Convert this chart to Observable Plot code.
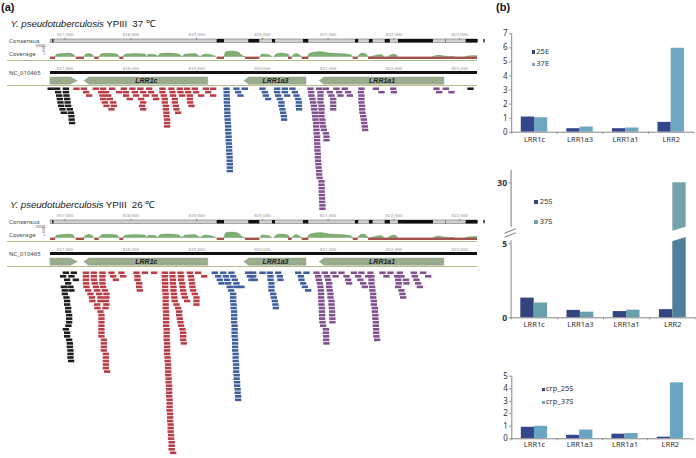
<!DOCTYPE html>
<html>
<head>
<meta charset="utf-8">
<script src="https://cdn.jsdelivr.net/npm/d3@7"></script>
<script src="https://cdn.jsdelivr.net/npm/@observablehq/plot@0.6"></script>
<style>
html,body{margin:0;padding:0;background:#fff}
#wrap{position:relative;width:696px;height:458px;overflow:hidden;background:#fff;font-family:"Liberation Sans",sans-serif}
.t{position:absolute;white-space:pre;line-height:1}
.sw{position:absolute}
</style>
</head>
<body>
<div id="wrap"></div>
<script>
// ---------- genome data (bp relative to 817,000) ----------
const genomeOrigin = 817000;
const genomeTicks = [817000,818000,819000,820000,821000,822000,823000];
const genes = [
  {name:"",       start:-220, end:195,  strand:1},
  {name:"LRR1c",  start:296,  end:2177, strand:-1},
  {name:"LRR1a3", start:2728, end:3671, strand:-1},
  {name:"LRR1a1", start:3873, end:5768, strand:-1}
];
const consensusGaps = [[-190,-170],[2313,2424],[2794,2961],[3154,3200],[3625,3706],[4416,4466],[4629,4685],[4868,4948],[5070,5602],[5794,5800],[6100,6282],[6370,6390]];
const coverageLow = [[-220,-144],[170,296],[453,520],[833,894],[2313,2424],[2744,2961],[3397,3453],[3605,3706],[4381,4457],[4613,5070],[5070,6270]];
const coverageRuns = [
  [[-144,0],[-114,2.5],[-38,3],[53,3.5],[114,3],[160,0]],
  [[296,0],[327,2.5],[388,3],[449,0]],
  [[524,0],[570,3],[692,3.3],[798,2.5],[833,0]],
  [[889,0],[935,2.5],[1072,3],[1224,2.5],[1250,0.4],[1276,2.4],[1376,2],[1421,0.4],[1452,3.2],[1604,3.5],[1725,2.8],[1790,0.4],[1832,2.5],[1984,3],[2060,0.4],[2136,2.5],[2212,2],[2303,0]],
  [[2424,0],[2455,5],[2546,5.5],[2638,4.5],[2714,0.5],[2744,0]],
  [[2972,0],[3000,2.7],[3093,2.2],[3154,0]],
  [[3184,0],[3230,3],[3291,3.5],[3397,2.5],[3420,0]],
  [[3453,0],[3519,3],[3605,0]],
  [[3691,0],[3732,3.5],[3884,5],[4036,3.5],[4188,3],[4340,2],[4381,0]],
  [[4457,0],[4522,3.5],[4570,3],[4618,0]],
  [[4650,0],[4720,1],[4811,2],[4857,0]],
  [[4917,0],[5008,2.5],[5070,0]],
  [[5602,0],[5678,1.5],[5769,0.6],[5930,0]],
  [[6100,0],[6200,1],[6270,0.8]]
];

// Read stacks: [first row, start position at each following row]
const black37 = [[0,-258],[0,-160,-144,-129,-119,-109,-99,-79,-58],[0,-27,-27,-18,-8,0,8,33,49,58,61,68],[0,6123]];
const red37 = [
 [0,134],[0,246,281,327],[0,429,509,529,540,565,590,666],[0,540,585,616,641,692,702],[0,676],[0,854,783],[0,985,885,889,945],
 [0,1107,1021,1041,1117,1148,1132,1148],[0,1239,1148,1189,1345],[1,1269,1325],[0,1441,1441,1462,1477,1477,1492,1492,1502,1502,1512,1512,1512],
 [0,1578,1593,1604,1629,1629,1645,1654,1680],[0,1705,1715,1740],[0,1816,1832,1857,1857,1862,1882],[0,1933,1953,2029],[0,2101,2136,2212],[0,2212]
];
const blue37 = [
 [0,2414,2417,2417,2420,2420,2424,2424,2428,2428,2432,2436,2440,2440,2444,2447,2447,2451,2455,2455,2458,2462,2462,2465,2465,2465],
 [0,2566,2592,2627],[0,2693],[0,2961,2997,3013,3048],[0,3184,3184,3200,3225,3250,3250,3265,3276,3286,3291],[0,3301,3301,3336],[0,3417,3453,3478,3504,3514,3514,3519]
];
const purple37 = [
 [0,3691,3701,3706,3721,3732,3742,3747,3757,3762,3767,3777,3777,3782,3785,3792,3792,3792,3797,3797,3803,3803,3808,3812,3815,3823,3823,3830,3858,3858,3861,3861,3864,3868,3868,3873,3873],
 [0,3823,3843,3843,3843,3843,3858,3858,3858,3858,3873,3873,3884,3894,3925,3934,3934],
 [0,3925,3985,4010,4036,4036,4036,4036],[0,4086,4127,4147],[0,4213,4264,4289],
 [0,4466,4457,4466,4466,4466,4476,4476,4481,4492,4502,4507,4517,4522],
 [0,4685,4770],[0,4948,4958],[0,5606,5647],[0,5749,5834]
];
const black26 = [
 [0,-27,-68,-8,8,-58,-43,-43,-18,-8,-8,8,8,23,23,23,12,-27,-8,-8,23,33,33,43,43,43,53],
 [0,94,58,125],[4,43,58]
];
const red26 = [
 [0,277,277,277,280,286,312,347,368,377],
 [0,398,398,398,413,429,448,479,499,499,448,453,499,514,514,514,514,514,514,514,550,550,550,550,581,581,581,581,581,600],
 [0,529,529,529,529,540,565,590,590,581,590,575],
 [0,666,692,733],[0,818,844],[0,1046,1061,1061,1087,1087,1097],[0,1173],[0,1315],
 [0,1477,1477,1477,1482,1482,1482,1490,1490,1490,1490,1490,1497,1497,1497,1497,1497,1505,1505,1505,1505,1512,1512,1512,1512,1520,1520,1528,1528,1528,1528,1535,1535,1543,1543,1543,1543,1550,1550,1550,1550,1558,1558,1558,1566,1566,1566,1573,1573,1581,1581,1581,1604],
 [0,1593,1593,1600,1600,1608,1608,1615,1622,1629,1654,1680,1695,1695,1705,1715,1725,1745,1756,1756,1756,1766],
 [0,1715,1725,1725,1740,1745,1756,1766,1781,1816],
 [0,1857,1873,1882,1892,1897,1908,1933,1958,1958,1958],[0,1984],[1,2075]
];
const blue26 = [
 [0,2364,2405,2424,2440,2465,2485,2516,2516,2516,2523,2523,2531,2531,2531,2531,2538,2538,2538,2538,2546,2546,2546,2546,2554,2554,2554,2561,2561,2561,2569,2569,2576,2576,2584,2584,2592,2592],
 [0,2237,2288,2313,2338],[0,2490,2516,2541,2566,2566],[4,2642],[0,2744,2769,2794],[0,2820,2820,2845],[0,2961],
 [0,3073,3083,3083,3098,3098,3098,3124,3134,3149,3159,3165],[0,3200,3225,3235],[0,3504,3545,3554,3580,3605,3656],[0,3630]
];
const purple26 = [
 [0,3782,3808,3818,3833,3843,3849,3853,3853,3858,3858,3864,3864,3868,3868,3873,3884,3925,3925,3930,3930,3934],
 [0,3909,3944,3960,3975,3975,3985,3995,3995,4010,4010,4016,4020,4020,4025,4025],
 [0,4603,4618,4618,4618,4628,4633,4644,4644,4654,4654,4669,4669,4678,4678,4685,4685,4689,4689,4694,4704],
 [0,4040,4074],[0,4162,4238,4264,4279],[0,4350,4416,4450,4492,4517],[0,4466,4568],[0,4785,4846],
 [0,4907,5008,5024,5034,5024,5074,5089,5100],[0,5049,5074,5141,5150],[0,5262,5277,5302,5328,5353],[0,5404,5480]
];

// ---------- bar chart data ----------
const barCategories = ["LRR1c","LRR1a3","LRR1a1","LRR2"];
const e25 = [1.08,0.25,0.25,0.7];
const e37 = [1.03,0.37,0.3,5.97];
const s25 = [1.33,0.5,0.42,0.55];
const s37 = [1.0,0.38,0.52,30];
const crp25 = [0.92,0.28,0.37,0.13];
const crp37 = [1.0,0.7,0.42,4.47];

// ---------- layout & style ----------
const wrap = document.getElementById("wrap");
const COL = {black:"#1d1d1d",red:"#bb3c46",blue:"#3f5e9f",purple:"#80508f",gene:"#9bab8e",brown:"#a2524a",green:"#7fae72",olive:"#b9bb8b"};
const READ_LEN = 96, HEAD = 70, COV_BASE = 2.4;
const xOpts = {domain:[genomeOrigin-220,genomeOrigin+6270],range:[50,477],axis:null};
const base = {width:490,marginLeft:0,marginRight:0,marginTop:0,marginBottom:0};

function put(plot,left,top){
  plot.style.position="absolute";plot.style.left=left+"px";plot.style.top=top+"px";
  plot.style.background="transparent";plot.style.overflow="visible";plot.style.maxWidth="none";
  wrap.appendChild(plot);
}
function label(text,left,top,size,opts={}){
  const d=document.createElement("div");d.className="t";
  d.style.left=left+"px";d.style.top=top+"px";d.style.fontSize=size+"px";
  d.style.color=opts.color||"#333";
  if(opts.bold)d.style.fontWeight="bold";
  if(opts.font)d.style.fontFamily=opts.font;
  if(opts.spacing)d.style.letterSpacing=opts.spacing;
  if(opts.html)d.innerHTML=text;else d.textContent=text;
  wrap.appendChild(d);return d;
}
function swatch(left,top,size,color){
  const d=document.createElement("div");d.className="sw";
  Object.assign(d.style,{left:left+"px",top:top+"px",width:size+"px",height:size+"px",background:color});
  wrap.appendChild(d);
}
const at = p => genomeOrigin + p;
const rulerAxis = (tickSize)=>Plot.axisX({anchor:"top",ticks:genomeTicks,tickFormat:d3.format(","),tickSize,tickPadding:1,label:null,
  fontFamily:"Liberation Serif",fontSize:5,fill:"#888",stroke:"#888"});
const readsOf = (stacks,color)=>stacks.flatMap(([r,...ps])=>ps.map((p,i)=>({p,row:r+i,color})));

function genomePanel(off,readGroups,readTop,pitch,rows){
  // consensus track with its ruler
  put(Plot.plot({...base,height:12.4,marginTop:9,x:xOpts,y:{domain:[0,1],axis:null},marks:[
    Plot.rect([0],{x1:()=>at(-220),x2:()=>at(6270),y1:0,y2:1,fill:"#cfcfcf",stroke:"#777",strokeWidth:.6}),
    Plot.rect(consensusGaps,{x1:d=>at(d[0]),x2:d=>at(d[1]),y1:0,y2:1,fill:"#111"}),
    rulerAxis(2)
  ]}),0,30.3+off);
  // coverage track
  const cov = coverageRuns.flatMap((run,k)=>run.map(([p,v])=>({p,v,k})));
  put(Plot.plot({...base,height:9,x:xOpts,y:{domain:[0,9],range:[9,0],axis:null},marks:[
    Plot.areaY(cov,{x:d=>at(d.p),y1:COV_BASE,y2:d=>COV_BASE+d.v,z:"k",fill:COL.green,stroke:"#5f8f5a",strokeWidth:.4,curve:"monotone-x"}),
    Plot.rect(coverageLow,{x1:d=>at(d[0]),x2:d=>at(d[1]),y1:0,y2:COV_BASE,fill:COL.brown})
  ]}),0,49.8+off);
  // olive separators + reference track with its ruler
  put(Plot.plot({...base,height:14,marginTop:11,x:xOpts,y:{domain:[0,1],axis:null},marks:[
    Plot.rect([0],{x1:()=>at(-220),x2:()=>at(6270),y1:0,y2:1,fill:"#111"}),
    Plot.axisX({anchor:"top",ticks:genomeTicks,tickFormat:d3.format(","),tickSize:0,tickPadding:1.5,label:null,fontFamily:"Liberation Serif",fontSize:5,fill:"#888"})
  ]}),0,60.3+off);
  // gene arrows
  const poly = genes.flatMap(g=>{
    const pts = g.strand>0
      ? [[g.start,0,1],[g.end-HEAD*1.5,0,1],[g.end,.5,.5]]
      : [[g.start,.5,.5],[g.start+HEAD,0,1],[g.end,0,1]];
    return pts.map(([p,a,b])=>({g:g.start,p,a,b}));
  });
  put(Plot.plot({...base,height:7.3,x:xOpts,y:{domain:[0,1],axis:null},marks:[
    Plot.areaY(poly,{x:d=>at(d.p),y1:"a",y2:"b",z:"g",fill:COL.gene,stroke:"#8a9a80",strokeWidth:.4,curve:"linear"}),
    Plot.text(genes.filter(g=>g.name),{x:g=>at((g.start+g.end)/2),y:.5,text:"name",fontSize:7,fontWeight:"bold",fontStyle:"italic",fill:"#222",fontFamily:"Liberation Sans"})
  ]}),0,77+off);
  // reads
  const reads = readGroups.flatMap(([s,c])=>readsOf(s,c));
  const H = rows*pitch;
  put(Plot.plot({...base,height:H,x:xOpts,y:{domain:[-.5,rows-.5],range:[0,H],axis:null},marks:[
    Plot.rect(reads,{x1:d=>at(d.p),x2:d=>at(d.p+READ_LEN),y1:d=>d.row-.37,y2:d=>d.row+.37,fill:d=>d.color})
  ]}),0,readTop-pitch/2);
  // separators and track labels
  const sep = y=>{const d=document.createElement("div");Object.assign(d.style,{position:"absolute",left:"7px",width:"470px",top:y+"px",height:"1px",background:COL.olive});wrap.appendChild(d);};
  sep(60.3+off);sep(85+off);
  label("Consensus",9,37.8+off,6,{color:"#444",font:"Noto Sans"});
  label("Coverage",9,50.8+off,6,{color:"#444",font:"Noto Sans"});
  label("NC_010465",9,70.3+off,6,{color:"#444",font:"Noto Sans"});
  ["181688","93","50","0"].forEach((s,i)=>{const d=label(s,20,44.5+off+i*2.9,2.8,{color:"#555"});d.style.width="25px";d.style.textAlign="right";});
}

genomePanel(0,[[black37,COL.black],[red37,COL.red],[blue37,COL.blue],[purple37,COL.purple]],88.3,3.43,37);
genomePanel(181,[[black26,COL.black],[red26,COL.red],[blue26,COL.blue],[purple26,COL.purple]],272.3,3.53,53);

label("(a)",1,1.5,11,{bold:true,color:"#111"});
label("(b)",496,1.5,11,{bold:true,color:"#111"});
label('<i>Y. pseudotuberculosis</i> YPIII  37 ℃',10.5,18.5,9.8,{html:true,color:"#222",spacing:"-0.1px"});
label('<i>Y. pseudotuberculosis</i> YPIII  26 ℃',10,199.5,9.8,{html:true,color:"#222",spacing:"-0.1px"});

// ---------- bar charts ----------
const BAR_HALF = .29;
const rowsOf = (a,b,ca,cb)=>barCategories.flatMap((cat,i)=>[{i,v:a[i],x1:i-BAR_HALF,x2:i,c:ca},{i,v:b[i],x1:i,x2:i+BAR_HALF,c:cb}]);
const catAxes = (pad)=>[
  Plot.axisX({ticks:[-.5,.5,1.5,2.5,3.5],tickSize:2,tickFormat:()=>"",stroke:"#888"}),
  Plot.axisX({ticks:[0,1,2,3],tickSize:0,tickPadding:pad,tickFormat:i=>barCategories[i],fontFamily:"Noto Sans",fontSize:7.5,fill:"#333",label:null})
];
const numAxis = (ticks)=>Plot.axisY({ticks,tickSize:2,tickPadding:2,fontFamily:"Noto Sans",fontSize:8,fill:"#333",stroke:"#888",label:null,tickFormat:d3.format("d")});

// chart 1
put(Plot.plot({width:206,height:125,marginLeft:21.2,marginRight:2.5,marginTop:8.3,marginBottom:18.3,
  x:{domain:[-.5,3.5],axis:null},y:{domain:[0,7],axis:null},marks:[
  Plot.rect(rowsOf(e25,e37,"#35478c","#6fa6c2"),{x1:"x1",x2:"x2",y1:0,y2:"v",fill:"c"}),
  Plot.ruleX([-.5],{stroke:"#888"}),Plot.ruleY([0],{stroke:"#888"}),
  numAxis([0,1,2,3,4,5,6,7]),...catAxes(4)
]}),490,25);
swatch(531.7,50,3.5,"#35478c");swatch(531.7,62.7,3.5,"#6fa6c2");
label("25E",536.3,47.7,7.5,{font:"Noto Sans"});label("37E",536.3,60.4,7.5,{font:"Noto Sans"});

// chart 2, with a broken axis: the LRR2 37S bar is cut between breakLow and breakHigh
const brk = v => v<=5.5 ? v : v<=10 ? 5.5+(v-5.5)*0.018 : 5.581+(v-10)*0.177;
const breakLow = [5.13,5.43], breakHigh = [11.5,13];
const c2 = rowsOf(s25,s37,"#33447f","#6a9fae").filter(d=>d.v<=5);
const bigLow = breakLow.map((v,k)=>({x:3+k*BAR_HALF,y1:0,y2:v}));
const bigHigh = breakHigh.map((v,k)=>({x:3+k*BAR_HALF,y1:brk(v),y2:brk(s37[3])}));
put(Plot.plot({width:206,height:165,marginLeft:20.6,marginRight:.6,marginTop:12.3,marginBottom:17.7,
  x:{domain:[-.5,3.5],axis:null},y:{domain:[0,brk(30)],axis:null},marks:[
  Plot.rect(c2,{x1:"x1",x2:"x2",y1:0,y2:"v",fill:"c"}),
  Plot.areaY(bigLow,{x:"x",y1:"y1",y2:"y2",fill:"#4f7f9b",curve:"linear"}),
  Plot.areaY(bigHigh,{x:"x",y1:"y1",y2:"y2",fill:"#74a3ae",curve:"linear"}),
  Plot.ruleX([-.5],{y1:0,y2:5.2,stroke:"#888"}),
  Plot.ruleX([-.5],{y1:brk(13),y2:brk(34.7),stroke:"#aaa",strokeWidth:1.6}),
  Plot.ruleY([0],{stroke:"#888"}),
  Plot.link([{a:10.76,b:12.44},{a:5.45,b:10.9}],{x1:-.643,x2:-.398,y1:d=>brk(d.a),y2:d=>brk(d.b),stroke:"#555",strokeWidth:.8}),
  Plot.axisY({ticks:[0,5,30].map(brk),tickSize:2,tickPadding:2,fontFamily:"Noto Sans",fontSize:8.5,fontWeight:"bold",fill:"#333",stroke:"#888",label:null,
    tickFormat:t=>[0,5,30].find(v=>Math.abs(brk(v)-t)<1e-6)}),
  ...catAxes(4)
]}),490,170);
swatch(534.3,200,4,"#33447f");swatch(534.3,220,4,"#6a9fae");
label("25S",539.7,197.8,7.5,{font:"Noto Sans"});label("37S",539.7,218,7.5,{font:"Noto Sans"});

// chart 3
put(Plot.plot({width:206,height:85,marginLeft:21.3,marginRight:3.5,marginTop:10.7,marginBottom:11.7,
  x:{domain:[-.5,3.5],axis:null},y:{domain:[0,5],axis:null},marks:[
  Plot.rect(rowsOf(crp25,crp37,"#35478c","#6aa5c4"),{x1:"x1",x2:"x2",y1:0,y2:"v",fill:"c"}),
  Plot.ruleX([-.5],{stroke:"#888"}),Plot.ruleY([0],{stroke:"#888"}),
  numAxis([0,1,2,3,4,5]),...catAxes(3)
]}),490,365);
swatch(541.7,387.5,3.5,"#35478c");swatch(541.7,400.5,3.5,"#6aa5c4");
label("crp_25S",546,385.2,7.5,{font:"Noto Sans"});label("crp_37S",546,398.2,7.5,{font:"Noto Sans"});
</script>
</body>
</html>
